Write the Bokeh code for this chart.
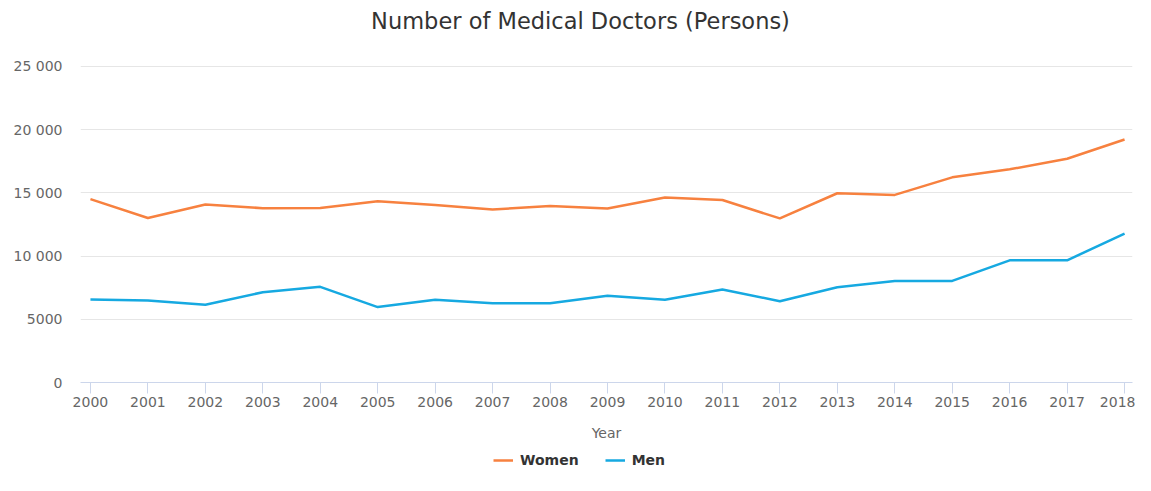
from bokeh.plotting import figure
from bokeh.layouts import column
from bokeh.models import FixedTicker, Legend, LegendItem, Label
from bokeh.embed import file_html
from bokeh.resources import INLINE

years = list(range(2000, 2019))
women = [14500, 13000, 14070, 13780, 13800, 14330, 14040, 13680, 13960, 13750,
         14620, 14430, 12970, 14960, 14830, 16220, 16850, 17690, 19210]
men = [6560, 6480, 6140, 7140, 7560, 5960, 6540, 6270, 6270, 6850,
       6540, 7350, 6430, 7530, 8030, 8030, 9660, 9660, 11760]
series_names = ["Women", "Men"]
series_colors = ["#f7813f", "#16a9e1"]
y_ticks = [0, 5000, 10000, 15000, 20000, 25000]
y_tick_labels = ["0", "5000", "10 000", "15 000", "20 000", "25 000"]
title_text = "Number of Medical Doctors (Persons)"
x_title = "Year"

FONT = "DejaVu Sans"
W = 1135
FL, FR = 80, 1132   # frame left / right (pixels) shared by all strips


def blank(fig):
    fig.outline_line_color = None
    fig.background_fill_color = "white"
    fig.border_fill_color = "white"
    return fig


# ---- title strip ----
pt = blank(figure(width=W, height=40, output_backend="svg", toolbar_location=None,
                  x_range=(FL, FR), y_range=(0, 40), x_axis_location=None,
                  y_axis_location=None, min_border_left=FL, min_border_right=W - FR,
                  min_border_top=0, min_border_bottom=0))
pt.grid.visible = False
pt.add_layout(Label(x=580, y=20, text=title_text, text_align="center",
                    text_baseline="middle", text_font=FONT,
                    text_font_size="22.5px", text_color="#333333"))

# ---- main chart ----
p = blank(figure(width=W, height=405, output_backend="svg", toolbar_location=None,
                 x_range=(1999.827, 2018.138), y_range=(0, 25060),
                 min_border_left=FL, min_border_right=W - FR, min_border_top=25,
                 min_border_bottom=63))

p.line(years, women, line_color=series_colors[0], line_width=2.5)
p.line(years, men, line_color=series_colors[1], line_width=2.5)

p.yaxis.ticker = FixedTicker(ticks=y_ticks)
p.yaxis.major_label_overrides = {t: l for t, l in zip(y_ticks, y_tick_labels)}
p.yaxis.axis_line_color = None
p.yaxis.major_tick_line_color = None
p.yaxis.minor_tick_line_color = None
p.yaxis.major_tick_in = 0
p.yaxis.major_tick_out = 0
p.yaxis.major_label_standoff = 18
p.yaxis.major_label_text_font = FONT
p.yaxis.major_label_text_font_size = "14px"
p.yaxis.major_label_text_color = "#666666"

p.xaxis.ticker = FixedTicker(ticks=years)
p.xaxis.major_label_overrides = {y: str(y) for y in years}
p.xaxis.axis_line_color = "#ccd6eb"
p.xaxis.major_tick_line_color = "#ccd6eb"
p.xaxis.minor_tick_line_color = None
p.xaxis.major_tick_in = 0
p.xaxis.major_tick_out = 11
p.xaxis.major_label_standoff = 3
p.xaxis.major_label_text_font = FONT
p.xaxis.major_label_text_font_size = "14px"
p.xaxis.major_label_text_color = "#666666"
p.xaxis.axis_label = x_title
p.xaxis.axis_label_text_font = FONT
p.xaxis.axis_label_text_font_size = "14px"
p.xaxis.axis_label_text_font_style = "normal"
p.xaxis.axis_label_text_color = "#666666"
p.xaxis.axis_label_standoff = 15

p.xgrid.grid_line_color = None
p.ygrid.grid_line_color = "#e6e6e6"
p.ygrid.ticker = FixedTicker(ticks=y_ticks)

# ---- legend strip ----
pl = blank(figure(width=W, height=30, output_backend="svg", toolbar_location=None,
                  x_range=(0, W), y_range=(0, 30), x_axis_location=None,
                  y_axis_location=None, min_border_left=FL, min_border_right=W - FR,
                  min_border_top=0, min_border_bottom=0))
pl.grid.visible = False
# legend swatches use the series' line styles (data lie outside this strip's range)
rw = pl.line(years, women, line_color=series_colors[0], line_width=2.5)
rm = pl.line(years, men, line_color=series_colors[1], line_width=2.5)
legend = Legend(items=[LegendItem(label=series_names[0], renderers=[rw]),
                       LegendItem(label=series_names[1], renderers=[rm])],
                orientation="horizontal", location=(493 - FL, 5),
                label_text_font=FONT, label_text_font_size="14px",
                label_text_font_style="bold", label_text_color="#333333",
                glyph_width=20, glyph_height=20, label_standoff=7,
                spacing=26, padding=0, margin=0,
                border_line_color=None, background_fill_alpha=0)
pl.add_layout(legend)

layout = column(pt, p, pl, spacing=0)
open("out.html", "w").write(file_html(layout, INLINE))
